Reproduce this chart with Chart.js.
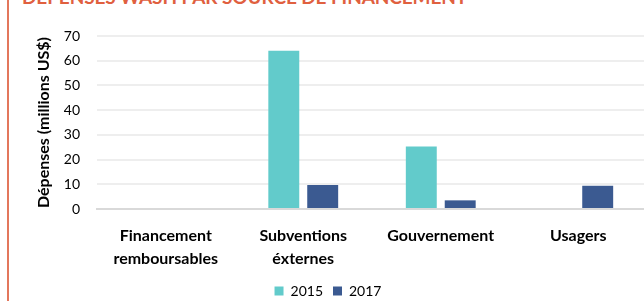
<!DOCTYPE html>
<html>
<head>
<meta charset="utf-8">
<script src="https://cdn.jsdelivr.net/npm/chart.js@4"></script>
<style>
  html, body { margin: 0; padding: 0; background: #fff; overflow: hidden; }
  #cadre { position: absolute; left: 7px; top: 0; width: 2px; height: 301px; background: #e3775c; }
  #titre { position: absolute; left: 22px; top: -13px; font: bold 19px/19px Lato, sans-serif; color: #e0603f; white-space: nowrap; letter-spacing: -0.1px; }
  #boite { position: absolute; left: 9px; top: 0; width: 638px; height: 301px; }
</style>
</head>
<body>
<div id="cadre"></div>
<div id="titre">DÉPENSES WASH PAR SOURCE DE FINANCEMENT</div>
<div id="boite"><canvas id="myChart"></canvas></div>
<script>
// Les donnees du graphique
const categories = [['Financement', 'remboursables'], ['Subventions', 'éxternes'], 'Gouvernement', 'Usagers']
const depenses2015 = [null, 64, 25.3, null]
const depenses2017 = [null, 9.7, 3.5, 9.4]
const ticksY = [0, 10, 20, 30, 40, 50, 60, 70]

const ctx = document.getElementById('myChart')
const police = 'Lato, "Open Sans", sans-serif'

new Chart(ctx, {
    type: 'bar',
    data: {
        labels: categories,
        datasets: [
            { label: '2015', data: depenses2015, backgroundColor: '#62cbcb' },
            { label: '2017', data: depenses2017, backgroundColor: '#3b5a91' }
        ]
    },
    options: {
        responsive: true,
        maintainAspectRatio: false,
        animation: false,
        layout: { padding: { top: 36, left: 0, right: 0, bottom: -7 } },
        datasets: { bar: { categoryPercentage: 0.566, barPercentage: 0.795 } },
        plugins: {
            tooltip: { enabled: false },
            legend: {
                position: 'bottom',
                labels: { boxWidth: 9, boxHeight: 9, padding: 10, color: '#000', font: { family: police, size: 14 } }
            }
        },
        scales: {
            x: {
                grid: { display: false, drawTicks: false },
                border: { color: '#d9d9d9', width: 2 },
                ticks: { color: '#000', padding: 15, maxRotation: 0, autoSkip: false, font: { family: police, size: 16, weight: 'bold', lineHeight: 1.45 } },
                afterFit: s => { s.height = 65 }
            },
            y: {
                min: 0,
                max: 70,
                afterBuildTicks: s => { s.ticks = ticksY.map(v => ({ value: v })) },
                grid: { color: '#eeeeee', lineWidth: 2, drawTicks: false },
                border: { display: false },
                ticks: { color: '#000', padding: 17, font: { family: police, size: 14 } },
                title: { display: true, text: 'Dépenses (millions US$)', color: '#000', padding: { top: 25, bottom: 0 }, font: { family: police, size: 16, weight: 'bold' } },
                afterFit: s => { s.width = 88 }
            }
        }
    }
})
</script>
</body>
</html>
